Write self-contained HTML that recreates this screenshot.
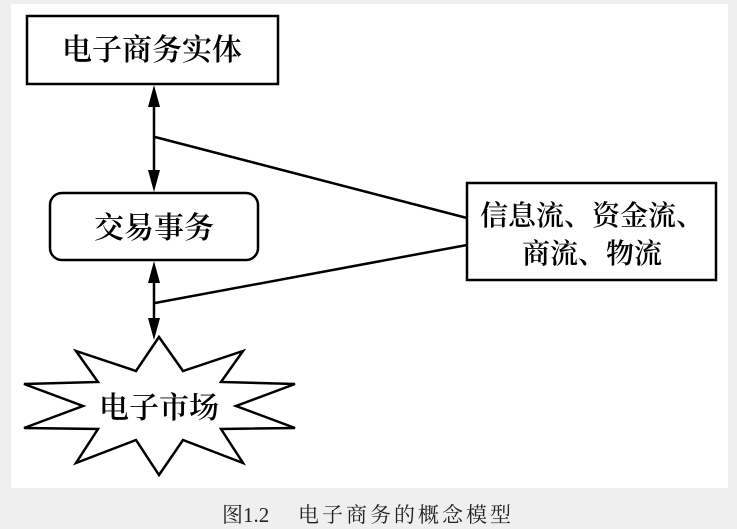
<!DOCTYPE html>
<html><head><meta charset="utf-8"><style>
body{margin:0;width:737px;height:529px;background:#efefef;overflow:hidden}
svg{position:absolute;left:0;top:0}
.t{font-family:'Liberation Serif','Noto Serif CJK SC',serif;font-weight:600}
</style></head><body>
<svg width="737" height="529" viewBox="0 0 737 529">
<rect x="11" y="4" width="717" height="484" fill="#fff"/>
<rect x="27" y="16" width="251" height="68" fill="#fff" stroke="#000" stroke-width="2.5"/>
<text class="t" x="152" y="60" font-size="30" text-anchor="middle">电子商务实体</text>
<rect x="50" y="193" width="208" height="67" rx="12" fill="#fff" stroke="#000" stroke-width="2.5"/>
<text class="t" x="154" y="238" font-size="30" text-anchor="middle">交易事务</text>
<rect x="467" y="183" width="249" height="97" fill="#fff" stroke="#000" stroke-width="2.5"/>
<text class="t" x="592" y="225" font-size="28" text-anchor="middle">信息流、资金流、</text>
<text class="t" x="592" y="263" font-size="28" text-anchor="middle">商流、物流</text>
<line x1="154" y1="100" x2="154" y2="178" stroke="#000" stroke-width="2.5"/>
<line x1="154" y1="275" x2="154" y2="325" stroke="#000" stroke-width="2.5"/>
<polygon points="154,85 148,107 160,107" fill="#000"/>
<polygon points="154,192 148,170 160,170" fill="#000"/>
<polygon points="154,261 148,283 160,283" fill="#000"/>
<polygon points="154,340 148,318 160,318" fill="#000"/>
<line x1="155" y1="137" x2="467" y2="218" stroke="#000" stroke-width="2.5"/>
<line x1="155" y1="303" x2="467" y2="245" stroke="#000" stroke-width="2.5"/>
<polygon points="159,337 183,371 243,351 221,382 295,384 236,406 295,428 221,429 243,463 183,440 159,475 136,440 76,463 98,429 24,428 83,406 24,384 98,382 76,351 136,371" fill="#fff" stroke="#000" stroke-width="2.5"/>
<text class="t" x="159" y="418" font-size="30" text-anchor="middle">电子市场</text>
<text x="222" y="522" font-size="21" fill="#222" font-family="'Liberation Serif','Noto Serif CJK SC',serif">图1.2</text>
<text x="298" y="522" font-size="21" fill="#222" letter-spacing="3" font-family="'Liberation Serif','Noto Serif CJK SC',serif">电子商务的概念模型</text>
</svg>
</body></html>
